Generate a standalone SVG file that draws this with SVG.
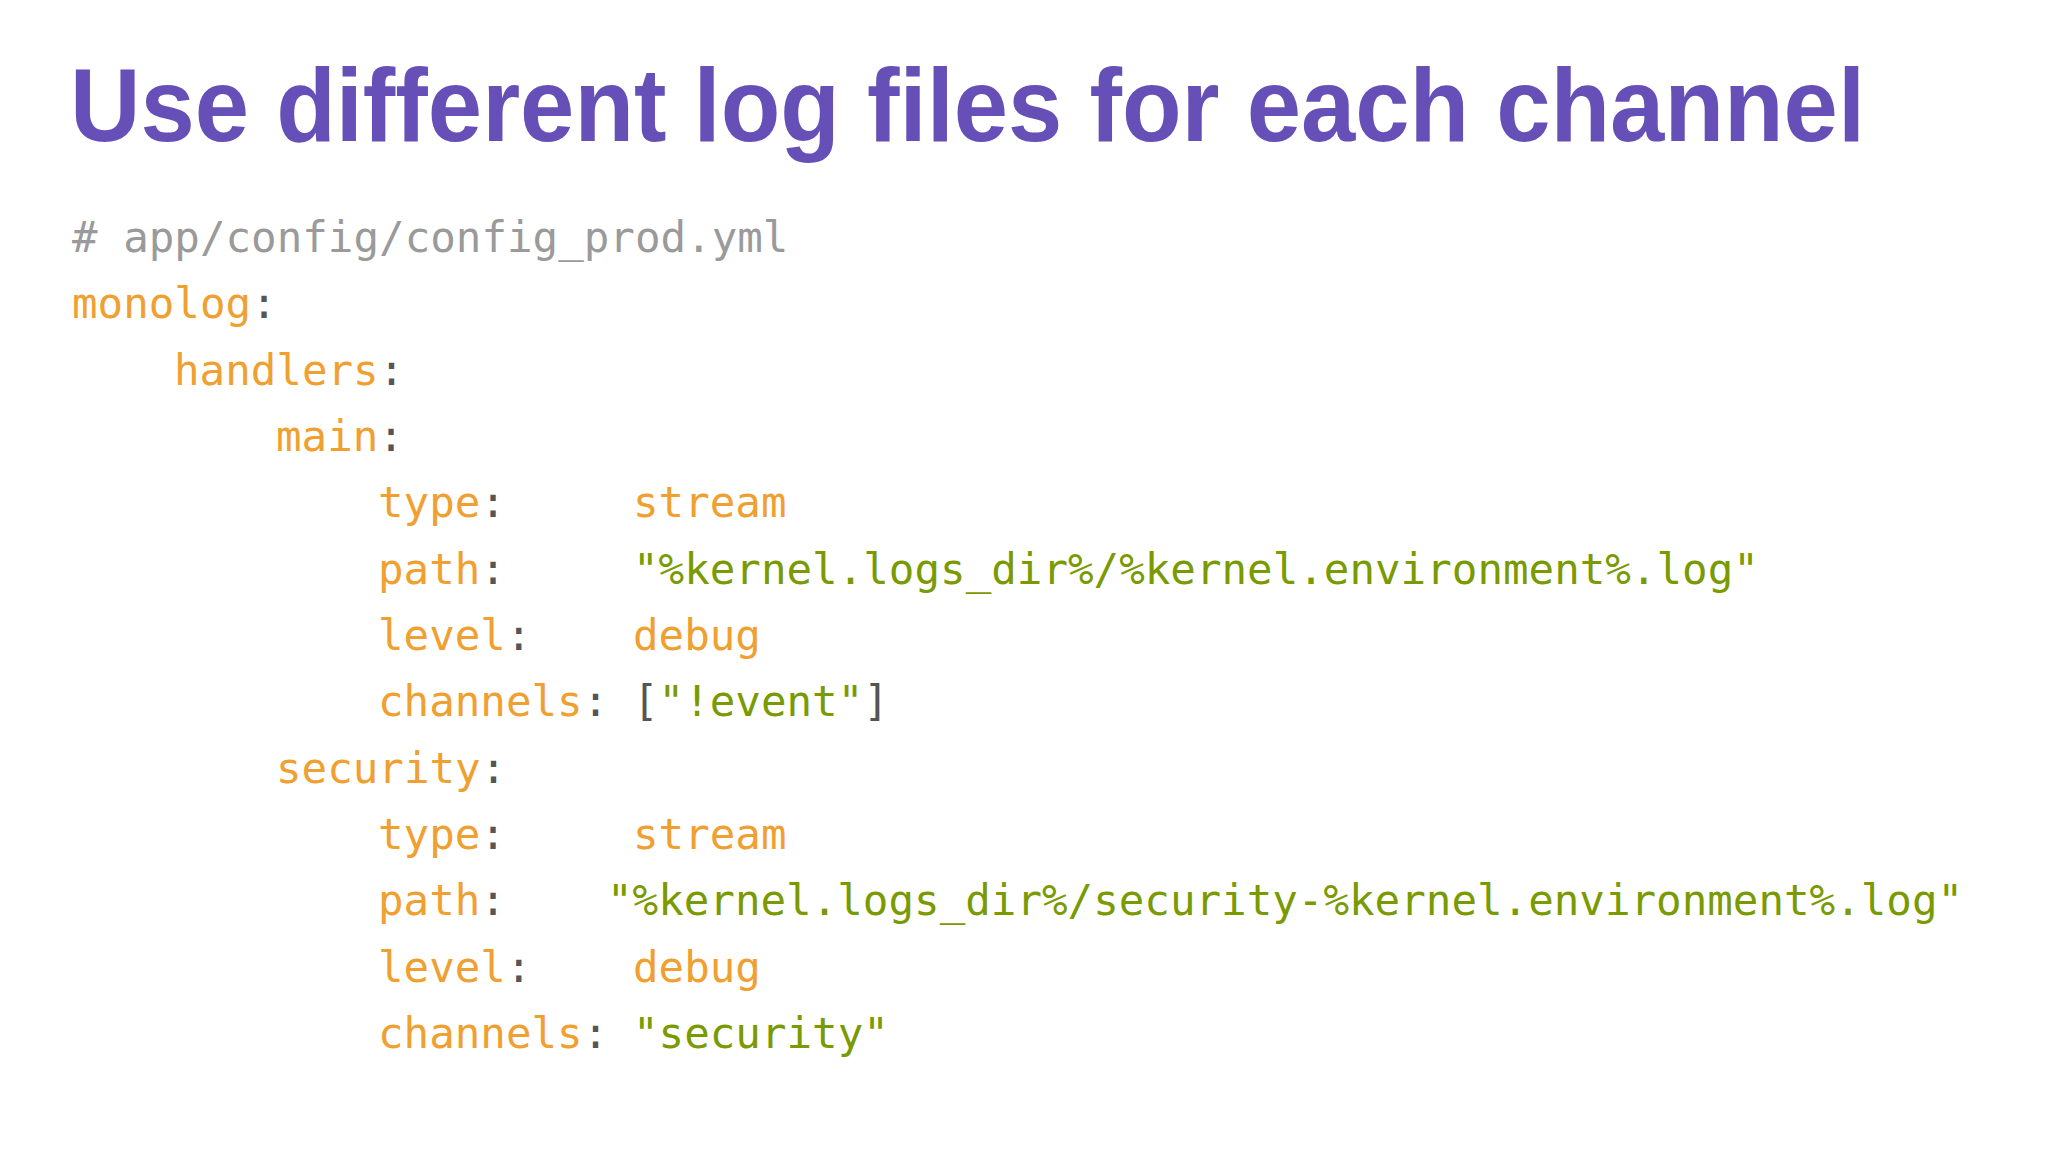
<svg xmlns="http://www.w3.org/2000/svg" width="2048" height="1152" viewBox="0 0 2048 1152">
<style>
.t{font-family:"Liberation Sans",Arial,sans-serif;font-weight:bold;font-size:104px;fill:#6650b8}
.c{font-family:"DejaVu Sans Mono","Liberation Mono",monospace;font-size:42.5px}
.g{fill:#9a9a9a}.k{fill:#f0a030}.p{fill:#555}.s{fill:#7a9a01}
</style>
<rect width="2048" height="1152" fill="#fff"/>
<g id="title"><text class="t" x="70" y="141" textLength="1795" lengthAdjust="spacingAndGlyphs">Use different log files for each channel</text></g>
<g id="code" class="c">
<text x="72" y="252" class="g"># app/config/config_prod.yml</text>
<text x="72" y="318"><tspan class="k">monolog</tspan><tspan class="p">:</tspan></text>
<text x="174" y="385"><tspan class="k">handlers</tspan><tspan class="p">:</tspan></text>
<text x="276" y="451"><tspan class="k">main</tspan><tspan class="p">:</tspan></text>
<text x="378" y="517"><tspan class="k">type</tspan><tspan class="p">:</tspan><tspan x="633" class="k">stream</tspan></text>
<text x="378" y="584"><tspan class="k">path</tspan><tspan class="p">:</tspan><tspan x="633" class="s">"%kernel.logs_dir%/%kernel.environment%.log"</tspan></text>
<text x="378" y="650"><tspan class="k">level</tspan><tspan class="p">:</tspan><tspan x="633" class="k">debug</tspan></text>
<text x="378" y="716"><tspan class="k">channels</tspan><tspan class="p">:</tspan><tspan x="633" class="p">[</tspan><tspan class="s">"!event"</tspan><tspan class="p">]</tspan></text>
<text x="276" y="783"><tspan class="k">security</tspan><tspan class="p">:</tspan></text>
<text x="378" y="849"><tspan class="k">type</tspan><tspan class="p">:</tspan><tspan x="633" class="k">stream</tspan></text>
<text x="378" y="915"><tspan class="k">path</tspan><tspan class="p">:</tspan><tspan x="607" class="s">"%kernel.logs_dir%/security-%kernel.environment%.log"</tspan></text>
<text x="378" y="982"><tspan class="k">level</tspan><tspan class="p">:</tspan><tspan x="633" class="k">debug</tspan></text>
<text x="378" y="1048"><tspan class="k">channels</tspan><tspan class="p">:</tspan><tspan x="633" class="s">"security"</tspan></text>
</g>
</svg>
